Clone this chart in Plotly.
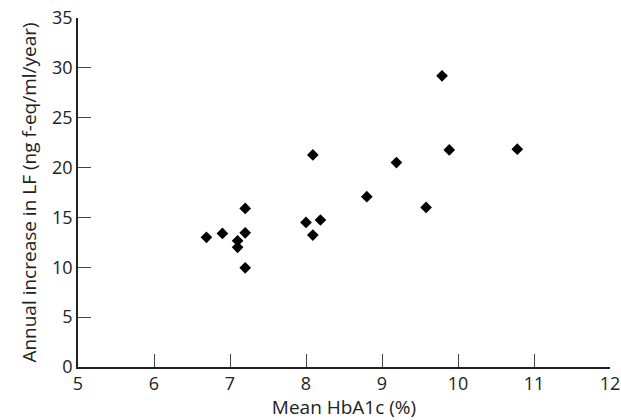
import plotly.graph_objects as go

hba1c = [6.69, 6.90, 7.10, 7.10, 7.20, 7.20, 7.20, 8.00, 8.09, 8.19, 8.09, 8.80, 9.19, 9.58, 9.79, 9.885, 10.78]
lf_increase = [13.0, 13.4, 12.66, 12.0, 15.9, 13.46, 9.95, 14.5, 13.23, 14.74, 21.27, 17.08, 20.5, 16.0, 29.2, 21.77, 21.84]

x_ticks = [5, 6, 7, 8, 9, 10, 11, 12]
y_ticks = [0, 5, 10, 15, 20, 25, 30, 35]

FONT = "Open Sans"

fig = go.Figure()
fig.add_trace(go.Scatter(
    x=hba1c, y=lf_increase, mode="markers",
    marker=dict(symbol="diamond", size=9, color="black", line=dict(width=0)),
    showlegend=False, hoverinfo="skip", cliponaxis=False,
))

axis_common = dict(
    showgrid=False, zeroline=False, showline=True, linecolor="#222", linewidth=1.5,
    ticks="inside", ticklen=13, tickwidth=1.3, tickcolor="#444",
    tickfont=dict(family=FONT, size=18, color="#222"), automargin=False,
)

fig.update_layout(
    width=621, height=420,
    margin=dict(l=78, r=11, t=18, b=53),
    plot_bgcolor="white", paper_bgcolor="white",
    xaxis=dict(range=[5, 12], tickvals=x_ticks, ticktext=[str(v) for v in x_ticks],
               title=dict(text="Mean HbA1c (%)", font=dict(family=FONT, size=19, color="#222"), standoff=2),
               **axis_common),
    yaxis=dict(range=[0, 35], tickvals=y_ticks, ticktext=[str(v) for v in y_ticks],
               title=dict(text="Annual increase in LF (ng f-eq/ml/year)", font=dict(family=FONT, size=19, color="#222"), standoff=10),
               **axis_common),
)

fig.write_html("out.html", config={"displayModeBar": False},
               post_script="document.body.style.margin='0';")
